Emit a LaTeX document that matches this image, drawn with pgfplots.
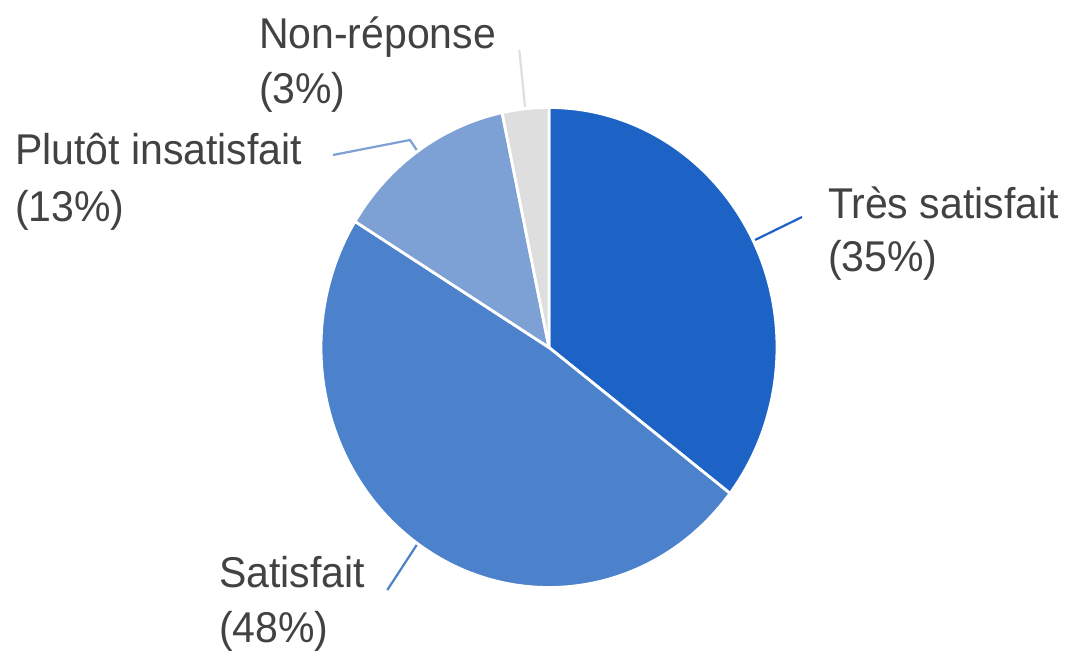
\documentclass[border=0pt]{standalone}
\usepackage{pgfplots}
\usepackage{pgfplotstable}
\pgfplotsset{compat=1.18}
\usepackage{graphicx}
\usepackage{fontspec}
\setmainfont{Liberation Sans}
\definecolor{cA}{HTML}{1D63C6}
\definecolor{cB}{HTML}{4C81CC}
\definecolor{cC}{HTML}{7DA1D4}
\definecolor{cD}{HTML}{DEDEDE}
\definecolor{txt}{HTML}{424242}
\tikzset{lbl/.style={font=\fontsize{20.5pt}{24pt}\selectfont, text=txt, inner sep=0pt, outer sep=0pt, anchor=base west}}
\newcommand\st[1]{\scalebox{1}[1.05]{#1}}

\pgfplotstableread{
label value
Tres 35.4
Sat 48.4
Plutot 12.9
Non 3.3
}\piedata

\pgfplotstablegetelem{0}{value}\of\piedata \let\va\pgfplotsretval
\pgfplotstablegetelem{1}{value}\of\piedata \let\vb\pgfplotsretval
\pgfplotstablegetelem{2}{value}\of\piedata \let\vc\pgfplotsretval
\pgfplotstablegetelem{3}{value}\of\piedata \let\vd\pgfplotsretval
\pgfmathsetmacro\tA{90}
\pgfmathsetmacro\tB{\tA-3.6*\va}
\pgfmathsetmacro\tC{\tB-3.6*\vb}
\pgfmathsetmacro\tD{\tC-3.6*\vc}
\pgfmathsetmacro\tE{\tD-3.6*\vd}

\begin{document}
\begin{tikzpicture}
\begin{axis}[
  x=0.5pt, y=0.5pt, disabledatascaling,
  xmin=0, xmax=1071, ymin=0, ymax=652,
  hide axis, clip=false,
]
\addplot[draw=none] coordinates {(0,0) (1071,652)};
\def\cx{549}\def\cy{304.5}
\fill[cA, draw=white, line width=1.4pt] (axis cs:\cx,\cy) -- +(\tA:114pt and 120pt) arc[start angle=\tA, end angle=\tB, x radius=114pt, y radius=120pt] -- cycle;
\fill[cB, draw=white, line width=1.4pt] (axis cs:\cx,\cy) -- +(\tB:114pt and 120pt) arc[start angle=\tB, end angle=\tC, x radius=114pt, y radius=120pt] -- cycle;
\fill[cC, draw=white, line width=1.4pt] (axis cs:\cx,\cy) -- +(\tC:114pt and 120pt) arc[start angle=\tC, end angle=\tD, x radius=114pt, y radius=120pt] -- cycle;
\fill[cD, draw=white, line width=1.4pt] (axis cs:\cx,\cy) -- +(\tD:114pt and 120pt) arc[start angle=\tD, end angle=\tE, x radius=114pt, y radius=120pt] -- cycle;

\draw[cA, line width=1.1pt] (axis cs:755,412) -- (axis cs:802,435);
\draw[cB, line width=1.1pt] (axis cs:416.7,107) -- (axis cs:387.3,62);
\draw[cC, line width=1.1pt] (axis cs:333,497) -- (axis cs:410,512) -- (axis cs:416.7,502);
\draw[cD, line width=1.1pt] (axis cs:519.3,602) -- (axis cs:525,545);

\node[lbl] at (axis cs:259,603.7) {\st{Non-réponse}};
\node[lbl] at (axis cs:259,548.7) {\st{(3\%)}};
\node[lbl] at (axis cs:15,487) {\st{Plutôt insatisfait}};
\node[lbl] at (axis cs:15,430.5) {\st{(13\%)}};
\node[lbl] at (axis cs:828,433.7) {\st{Très satisfait}};
\node[lbl] at (axis cs:828,380) {\st{(35\%)}};
\node[lbl] at (axis cs:219,64) {\st{Satisfait}};
\node[lbl] at (axis cs:219,9) {\st{(48\%)}};
\end{axis}
\end{tikzpicture}
\end{document}
